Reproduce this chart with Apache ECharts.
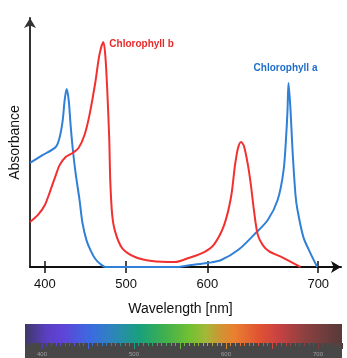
<!DOCTYPE html>
<html>
<head>
<meta charset="utf-8">
<script src="https://cdn.jsdelivr.net/npm/echarts@6/dist/echarts.min.js"></script>
<style>
  html, body { margin: 0; padding: 0; background: #fff; }
  #chart { width: 347px; height: 358px; }
</style>
</head>
<body>
<div id="chart"></div>
<script>
// Absorption spectra of chlorophyll a and b (relative absorbance vs wavelength in nm)
const tickWavelengths = [400, 500, 600, 700];

const chlAWavelength = [381.7, 397.6, 413.4, 418.3, 422.0, 424.4, 426.8, 429.3, 431.7, 434.1,
  437.8, 442.7, 446.3, 451.2, 456.1, 462.2, 468.3, 474.4, 562.2, 580.5, 600.0, 612.5, 627.7,
  642.0, 654.5, 663.4, 668.8, 671.4, 672.3, 673.2, 675.0, 676.8, 679.5, 681.3, 686.6, 692.9, 699.1];
const chlAAbsorbance = [0.418, 0.450, 0.482, 0.522, 0.590, 0.671, 0.715, 0.671, 0.570, 0.482,
  0.378, 0.269, 0.177, 0.108, 0.068, 0.032, 0.012, 0.000, 0.000, 0.008, 0.016, 0.028, 0.068,
  0.129, 0.189, 0.269, 0.390, 0.550, 0.631, 0.739, 0.631, 0.470, 0.289, 0.229, 0.120, 0.056, 0.000];

const chlBWavelength = [381.7, 391.5, 400.0, 406.1, 412.2, 418.3, 425.6, 434.1, 441.5, 448.8,
  454.9, 462.2, 467.1, 472.0, 474.4, 476.8, 479.3, 480.5, 482.9, 486.6, 495.1, 511.0, 531.7,
  559.8, 576.8, 596.3, 606.3, 615.2, 621.4, 625.0, 627.7, 630.4, 633.0, 636.6, 639.3, 642.0,
  645.5, 650.0, 655.4, 668.8, 684.0];
const chlBAbsorbance = [0.181, 0.209, 0.249, 0.301, 0.357, 0.410, 0.442, 0.458, 0.478, 0.530,
  0.610, 0.743, 0.851, 0.904, 0.851, 0.711, 0.510, 0.349, 0.209, 0.141, 0.076, 0.040, 0.024,
  0.020, 0.036, 0.060, 0.092, 0.169, 0.281, 0.410, 0.478, 0.502, 0.486, 0.410, 0.329, 0.229,
  0.129, 0.088, 0.064, 0.036, 0.000];

// Wavelength ruler under the colour spectrum strip
const rulerLabels = [400, 500, 600, 700];

// The wavelength axis is stretched beyond 600 nm; map nm to a linear axis position and back.
const STRETCH = 1.12 / 0.82;
function toAxis(nm) { return nm <= 600 ? nm : 600 + (nm - 600) * STRETCH; }
function fromAxis(a) { return a <= 600 ? a : 600 + (a - 600) / STRETCH; }

const tickPositions = tickWavelengths.map(toAxis);
const pairs = (xs, ys) => xs.map((w, i) => [toAxis(w), ys[i]]);

const FONT = '"Liberation Sans", Arial, sans-serif';
const RED = '#f23030';
const BLUE = '#2f80d6';
const X_MIN = 381.7, X_MAX = 764.6;

const chart = echarts.init(document.getElementById('chart'), null, { renderer: 'canvas' });

const spectrumStops = [
  [0.00, '#3f3868'], [0.07, '#5b3fc4'], [0.12, '#5f44d8'], [0.21, '#3a6ce0'],
  [0.29, '#2a8ab2'], [0.36, '#18a07e'], [0.44, '#3fb04e'], [0.52, '#72c032'],
  [0.57, '#a2b838'], [0.62, '#d29232'], [0.66, '#e98030'], [0.74, '#e05232'],
  [0.80, '#c84242'], [0.88, '#8e4040'], [1.00, '#573a3a']
].map(([offset, color]) => ({ offset, color }));

const STRIP_L = 25, STRIP_R = 342;
const stripFill = { type: 'linear', x: 0, y: 0, x2: 1, y2: 0, colorStops: spectrumStops };
// ticks of the ruler take the colour of the spectrum right above them
const rulerStroke = { type: 'linear', x: STRIP_L, y: 0, x2: STRIP_R, y2: 0, global: true, colorStops: spectrumStops };
const RULER_MIN = 400 - 17 / 0.92;
const RULER_MAX = RULER_MIN + (STRIP_R - STRIP_L) / 0.92;

chart.setOption({
  animation: false,
  grid: [
    { left: 27, right: 6, top: 18, bottom: 91 },
    { left: STRIP_L, right: 347 - STRIP_R, top: 343, height: 15,
      show: true, backgroundColor: '#474747', borderWidth: 0 }
  ],
  xAxis: [{
    type: 'value', min: X_MIN, max: X_MAX, gridIndex: 0,
    name: 'Wavelength [nm]', nameLocation: 'middle', nameGap: 35,
    nameTextStyle: { fontFamily: FONT, fontSize: 14, color: '#111', padding: [0, 10, 0, 0] },
    axisLine: { show: true, onZero: false, symbol: ['none', 'arrow'], symbolSize: [9, 10],
      lineStyle: { color: '#111', width: 2 } },
    axisTick: { show: true, customValues: tickPositions, length: 6, lineStyle: { color: '#111', width: 1.5 } },
    axisLabel: { show: true, customValues: tickPositions, margin: 11,
      fontFamily: FONT, fontSize: 13, color: '#111',
      formatter: v => String(Math.round(fromAxis(v))) },
    splitLine: { show: false }
  }, {
    type: 'value', min: X_MIN, max: X_MAX, position: 'bottom', gridIndex: 0,
    axisLine: { show: false },
    axisTick: { show: true, inside: true, customValues: tickPositions, length: 6,
      lineStyle: { color: '#111', width: 1.5 } },
    axisLabel: { show: false },
    splitLine: { show: false }
  }, {
    type: 'value', gridIndex: 1, position: 'top',
    min: RULER_MIN, max: RULER_MAX,
    axisLine: { show: false, onZero: false },
    axisTick: { show: true, inside: true, length: 6, lineStyle: { color: rulerStroke, width: 1 } },
    minorTick: { show: true, splitNumber: 10, length: 3, lineStyle: { color: rulerStroke, width: 1 } },
    axisLabel: { show: true, inside: true, margin: 8, fontFamily: FONT, fontSize: 6, color: '#a0a0a0',
      customValues: rulerLabels, formatter: v => String(v) },
    splitLine: { show: false }
  }],
  yAxis: [{
    type: 'value', min: 0, max: 1, gridIndex: 0,
    name: 'Absorbance', nameLocation: 'middle', nameGap: 8, nameRotate: 90,
    nameTextStyle: { fontFamily: FONT, fontSize: 14, color: '#111' },
    axisLine: { show: true, symbol: ['none', 'arrow'], symbolSize: [9, 10],
      lineStyle: { color: '#333', width: 2 } },
    axisTick: { show: false },
    axisLabel: { show: false },
    splitLine: { show: false }
  }, {
    type: 'value', gridIndex: 1, min: 0, max: 1, show: false
  }],
  series: [{
    name: 'Chlorophyll a', type: 'line', data: pairs(chlAWavelength, chlAAbsorbance),
    smooth: 0.3, showSymbol: false, clip: true,
    lineStyle: { color: BLUE, width: 2 },
    markPoint: {
      symbol: 'circle', symbolSize: 0,
      data: [{ type: 'max' }],
      label: { show: true, formatter: 'Chlorophyll a', position: 'top', distance: 10, offset: [-3, 0],
        fontFamily: FONT, fontSize: 10, fontWeight: 'bold', color: '#1f6fc8' }
    }
  }, {
    name: 'Chlorophyll b', type: 'line', data: pairs(chlBWavelength, chlBAbsorbance),
    smooth: 0.3, showSymbol: false, clip: true,
    lineStyle: { color: RED, width: 2 },
    markPoint: {
      symbol: 'circle', symbolSize: 0,
      data: [{ type: 'max' }],
      label: { show: true, formatter: 'Chlorophyll b', position: 'right', distance: 6, offset: [0, 2],
        fontFamily: FONT, fontSize: 10, fontWeight: 'bold', color: '#ea2a2a' }
    }
  }],
  graphic: [{
    type: 'rect', silent: true, shape: { x: STRIP_L, y: 324, width: STRIP_R - STRIP_L, height: 19 },
    style: { fill: stripFill }
  }]
});
</script>
</body>
</html>
